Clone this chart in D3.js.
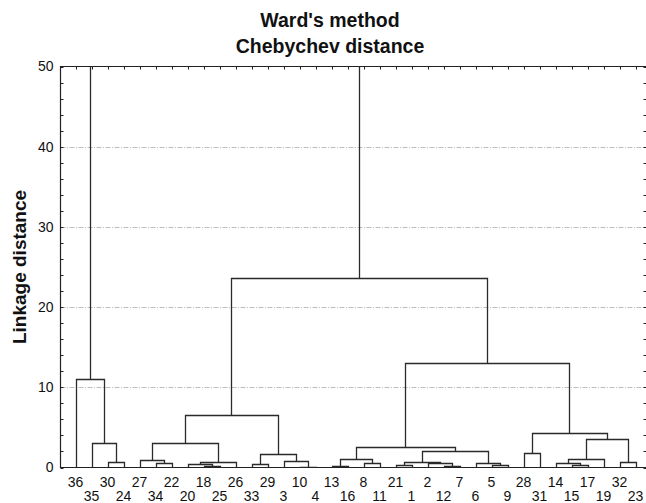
<!DOCTYPE html>
<html>
<head>
<meta charset="utf-8">
<script src="https://cdn.jsdelivr.net/npm/d3@7"></script>
<style>
  html, body { margin: 0; padding: 0; background: #fff; }
  svg { display: block; font-family: "Liberation Sans", Arial, sans-serif; }
</style>
</head>
<body>
<svg id="chart" width="646" height="503"></svg>
<script>
// Objects in dendrogram order (left to right)
const leafOrder = [36, 35, 30, 24, 27, 34, 22, 20, 18, 25, 26, 33, 29, 3, 10, 4,
                   13, 16, 8, 11, 21, 1, 2, 12, 7, 6, 5, 9, 28, 31, 14, 15, 17, 19, 32, 23];

// Agglomeration steps: [left, right, linkage distance]
// numbers are objects, "mN" refers to the cluster formed at step N
const merges = [
  [30, 24, 0.7],          // m0
  [35, "m0", 3.0],        // m1
  [36, "m1", 11.0],       // m2
  [34, 22, 0.58],         // m3
  [27, "m3", 0.88],       // m4
  [18, 25, 0.15],         // m5
  [20, "m5", 0.4],        // m6
  ["m6", 26, 0.7],        // m7
  ["m4", "m7", 3.0],      // m8
  [33, 29, 0.4],          // m9
  [10, 4, 0.12],          // m10
  [3, "m10", 0.8],        // m11
  ["m9", "m11", 1.66],    // m12
  ["m8", "m12", 6.5],     // m13
  [13, 16, 0.15],         // m14
  [8, 11, 0.58],          // m15
  ["m14", "m15", 1.0],    // m16
  [21, 1, 0.3],           // m17
  [12, 7, 0.15],          // m18
  [2, "m18", 0.5],        // m19
  ["m17", "m19", 0.7],    // m20
  [5, 9, 0.25],           // m21
  [6, "m21", 0.58],       // m22
  ["m20", "m22", 2.08],   // m23
  ["m16", "m23", 2.5],    // m24
  [28, 31, 1.85],         // m25
  [15, 17, 0.3],          // m26
  [14, "m26", 0.6],       // m27
  ["m27", 19, 1.0],       // m28
  [32, 23, 0.7],          // m29
  ["m28", "m29", 3.57],   // m30
  ["m25", "m30", 4.3],    // m31
  ["m24", "m31", 13.0],   // m32
  ["m13", "m32", 23.6],   // m33
  ["m2", "m33", 60.0]     // m34 (above the visible range)
];

const yTicks = [0, 10, 20, 30, 40, 50];
const gridValues = [10, 20, 30, 40];
const titleLines = ["Ward's method", "Chebychev distance"];
const yLabel = "Linkage distance";

const W = 646, H = 503;
const plot = { left: 60.5, right: 647, top: 66.5, bottom: 467.5 };

const svg = d3.select("#chart");

const x = d3.scalePoint().domain(leafOrder).range([75.5, 635.5]);
const y = d3.scaleLinear().domain([0, 50]).range([plot.bottom, plot.top]);

// Title
svg.append("g").selectAll("text").data(titleLines).join("text")
  .attr("x", 330).attr("y", (d, i) => 27 + i * 25.5)
  .attr("text-anchor", "middle")
  .attr("font-size", 19.5).attr("font-weight", "bold").attr("fill", "#111")
  .text(d => d);

// Y axis label
svg.append("text")
  .attr("transform", `translate(26,${(plot.top + plot.bottom) / 2}) rotate(-90)`)
  .attr("text-anchor", "middle")
  .attr("font-size", 19).attr("font-weight", "bold").attr("fill", "#111")
  .text(yLabel);

// Grid lines
svg.append("g").selectAll("line").data(gridValues).join("line")
  .attr("x1", plot.left).attr("x2", plot.right)
  .attr("y1", d => Math.round(y(d)) + 0.5).attr("y2", d => Math.round(y(d)) + 0.5)
  .attr("stroke", "#bdbdbd").attr("stroke-width", 1)
  .attr("stroke-dasharray", "5,1.5,1,1.5");

// Left axis with inward ticks every 2 units
const leftAxis = d3.axisLeft(y).tickValues(yTicks).tickSize(0).tickPadding(7).tickFormat(d3.format("d"));
const gL = svg.append("g").attr("transform", `translate(${plot.left},0)`).call(leftAxis);
gL.select(".domain").remove();
gL.selectAll("text").attr("font-size", 14).attr("fill", "#111")
  .attr("font-family", "'Liberation Sans', Arial, sans-serif");

const minor = d3.range(0, 51, 2);
const tickG = svg.append("g").attr("stroke", "#222").attr("stroke-width", 1);
tickG.selectAll(".tl").data(minor).join("line")
  .attr("x1", plot.left).attr("x2", plot.left + 3)
  .attr("y1", d => Math.round(y(d)) + 0.5).attr("y2", d => Math.round(y(d)) + 0.5);
tickG.selectAll(".tr").data(minor).join("line")
  .attr("x1", plot.right - 3.5).attr("x2", plot.right)
  .attr("y1", d => Math.round(y(d)) + 0.5).attr("y2", d => Math.round(y(d)) + 0.5);
// Top ticks at object positions
tickG.selectAll(".tt").data(leafOrder).join("line")
  .attr("x1", d => Math.round(x(d)) + 0.5).attr("x2", d => Math.round(x(d)) + 0.5)
  .attr("y1", plot.top).attr("y2", plot.top + 3);

// Frame
svg.append("path")
  .attr("d", `M${plot.left},${plot.bottom}V${plot.top}H${plot.right}V${plot.bottom}Z`)
  .attr("fill", "none").attr("stroke", "#222").attr("stroke-width", 1.2);

// Object labels, alternating in two rows
svg.append("g").selectAll("text").data(leafOrder).join("text")
  .attr("x", d => x(d))
  .attr("y", (d, i) => i % 2 === 0 ? 487 : 500.5)
  .attr("text-anchor", "middle")
  .attr("font-size", 14).attr("fill", "#111")
  .text(d => d);

// Dendrogram
const nodes = merges.map(() => ({}));
function posOf(ref) {
  if (typeof ref === "number") return { x: x(ref), h: 0 };
  return nodes[+ref.slice(1)];
}
const segs = [];
merges.forEach((m, i) => {
  const a = posOf(m[0]), b = posOf(m[1]);
  nodes[i].x = (a.x + b.x) / 2;
  nodes[i].h = m[2];
  segs.push({ x1: a.x, h1: a.h, x2: b.x, h2: b.h, h: m[2] });
});

svg.append("clipPath").attr("id", "plotClip")
  .append("rect").attr("x", plot.left).attr("y", plot.top)
  .attr("width", plot.right - plot.left).attr("height", plot.bottom - plot.top);

const snapX = v => Math.round(v) + 0.5;
const snapY = v => Math.round(y(v)) + 0.5;
svg.append("g").attr("clip-path", "url(#plotClip)")
  .selectAll("path").data(segs).join("path")
  .attr("d", s => `M${snapX(s.x1)},${snapY(s.h1)}V${snapY(s.h)}H${snapX(s.x2)}V${snapY(s.h2)}`)
  .attr("fill", "none").attr("stroke", "#2a2a2a").attr("stroke-width", 1.3);
</script>
</body>
</html>
